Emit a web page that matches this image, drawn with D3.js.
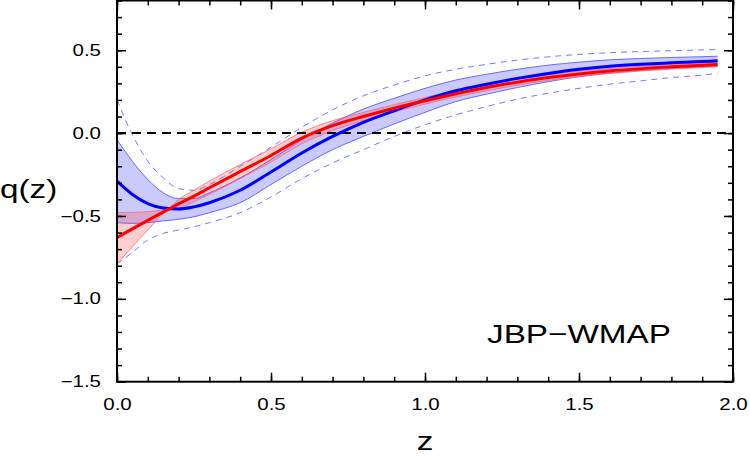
<!DOCTYPE html>
<html>
<head>
<meta charset="utf-8">
<script src="https://cdn.jsdelivr.net/npm/d3@7"></script>
<style>
  body { margin: 0; background: #fff; }
  text { font-family: "Liberation Sans", Arial, sans-serif; fill: #000; }
</style>
</head>
<body>
<div id="chart"></div>
<script>
// blue (JBP-WMAP) reconstruction: mean, 1 sigma band, 2 sigma dashed
let zBlue = [0, 0.05, 0.1, 0.15, 0.2, 0.25, 0.3, 0.4, 0.5, 0.6, 0.7, 0.8, 0.9, 1.0, 1.1, 1.2, 1.3, 1.4, 1.5, 1.6, 1.7, 1.8, 1.9, 1.95];
let blueMean = [-0.29, -0.37, -0.425, -0.452, -0.458, -0.445, -0.42, -0.345, -0.235, -0.12, -0.02, 0.065, 0.135, 0.2, 0.255, 0.295, 0.33, 0.36, 0.385, 0.403, 0.415, 0.424, 0.432, 0.436];
let blueHi1 = [-0.04, -0.17, -0.28, -0.36, -0.395, -0.395, -0.36, -0.27, -0.16, -0.04, 0.06, 0.145, 0.21, 0.27, 0.32, 0.355, 0.385, 0.41, 0.428, 0.442, 0.45, 0.456, 0.461, 0.464];
let blueLo1 = [-0.54, -0.545, -0.54, -0.53, -0.52, -0.505, -0.48, -0.42, -0.31, -0.2, -0.10, -0.02, 0.055, 0.125, 0.19, 0.235, 0.275, 0.31, 0.34, 0.362, 0.378, 0.39, 0.4, 0.405];
let blueHi2 = [0.2, -0.01, -0.17, -0.27, -0.335, -0.345, -0.31, -0.2, -0.085, 0.035, 0.14, 0.225, 0.29, 0.345, 0.385, 0.415, 0.44, 0.46, 0.475, 0.485, 0.492, 0.497, 0.502, 0.504];
let blueLo2 = [-0.79, -0.72, -0.645, -0.605, -0.585, -0.565, -0.54, -0.48, -0.385, -0.275, -0.18, -0.10, -0.02, 0.05, 0.11, 0.16, 0.205, 0.24, 0.27, 0.295, 0.315, 0.335, 0.35, 0.36];

// red reconstruction: mean and band
let zRed = [0, 0.05, 0.1, 0.165, 0.2, 0.25, 0.3, 0.4, 0.5, 0.6, 0.7, 0.8, 0.9, 1.0, 1.2, 1.4, 1.6, 1.8, 1.95];
let redMean = [-0.63, -0.578, -0.527, -0.462, -0.427, -0.38, -0.33, -0.232, -0.135, -0.03, 0.045, 0.1, 0.15, 0.195, 0.275, 0.335, 0.375, 0.4, 0.414];
let redHi = [-0.48, -0.478, -0.474, -0.455, -0.40, -0.345, -0.29, -0.19, -0.095, 0.005, 0.075, 0.125, 0.172, 0.215, 0.295, 0.352, 0.39, 0.414, 0.428];
let redLo = [-0.79, -0.685, -0.585, -0.468, -0.455, -0.415, -0.37, -0.275, -0.175, -0.065, 0.015, 0.075, 0.128, 0.175, 0.255, 0.318, 0.36, 0.386, 0.40];

let xTickLabels = [0, 0.5, 1.0, 1.5, 2.0];
let yTickLabels = [-1.5, -1.0, -0.5, 0.0, 0.5];

let width = 750, height = 461;
let plot = {left: 117, right: 733, top: 0.5, bottom: 381.7};

let svg = d3.select("#chart")
  .append("svg")
    .attr("width", width)
    .attr("height", height);

let x = d3.scaleLinear().domain([0, 2]).range([plot.left, plot.right]);
let y = d3.scaleLinear().domain([-1.5, 0.8]).range([plot.bottom, plot.top]);

let blue = zBlue.map(function(z, i) {
  return {z: z, m: blueMean[i], h1: blueHi1[i], l1: blueLo1[i], h2: blueHi2[i], l2: blueLo2[i]};
});
let red = zRed.map(function(z, i) {
  return {z: z, m: redMean[i], h: redHi[i], l: redLo[i]};
});

let curve = d3.curveMonotoneX;
let lineOf = function(key) {
  return d3.line().curve(curve).x(function(d) { return x(d.z); }).y(function(d) { return y(d[key]); });
};

// blue 1 sigma band
svg.append("path")
  .datum(blue)
  .attr("d", d3.area().curve(curve)
    .x(function(d) { return x(d.z); })
    .y0(function(d) { return y(d.l1); })
    .y1(function(d) { return y(d.h1); }))
  .attr("fill", "rgba(60,60,255,0.27)");

["h1", "l1"].forEach(function(k) {
  svg.append("path").datum(blue).attr("d", lineOf(k))
    .attr("fill", "none").attr("stroke", "#5a5aff").attr("stroke-width", 0.9);
});

// blue 2 sigma dashed
["h2", "l2"].forEach(function(k) {
  svg.append("path").datum(blue).attr("d", lineOf(k))
    .attr("fill", "none").attr("stroke", "#7878ff").attr("stroke-width", 1)
    .attr("stroke-dasharray", "6,5");
});

// red band
svg.append("path")
  .datum(red)
  .attr("d", d3.area().curve(curve)
    .x(function(d) { return x(d.z); })
    .y0(function(d) { return y(d.l); })
    .y1(function(d) { return y(d.h); }))
  .attr("fill", "rgba(255,60,60,0.25)");

["h", "l"].forEach(function(k) {
  svg.append("path").datum(red).attr("d", lineOf(k))
    .attr("fill", "none").attr("stroke", "#ff6a6a").attr("stroke-width", 0.8);
});

// zero line
svg.append("line")
  .attr("x1", x(0)).attr("x2", x(2))
  .attr("y1", y(0)).attr("y2", y(0))
  .attr("stroke", "#000").attr("stroke-width", 2)
  .attr("stroke-dasharray", "9,6");

// mean curves
svg.append("path").datum(blue).attr("d", lineOf("m"))
  .attr("fill", "none").attr("stroke", "#0000ff").attr("stroke-width", 3);
svg.append("path").datum(red).attr("d", lineOf("m"))
  .attr("fill", "none").attr("stroke", "#ff0000").attr("stroke-width", 3);

// frame with inward ticks on all sides
let fmt = d3.format(".1f");
let xMinor = d3.range(0, 2.0001, 0.1);
let yMinor = d3.range(-1.5, 0.8001, 0.1);

svg.append("g")
  .attr("transform", "translate(0," + plot.bottom + ")")
  .call(d3.axisBottom(x).tickValues(xMinor).tickSize(-5).tickFormat(""))
  .call(function(g) { g.select(".domain").remove(); });
svg.append("g")
  .attr("transform", "translate(0," + plot.bottom + ")")
  .call(d3.axisBottom(x).tickValues(xTickLabels).tickSize(-9).tickPadding(17)
    .tickFormat(function(d) { return fmt(d); }))
  .call(function(g) { g.select(".domain").remove(); });
svg.append("g")
  .attr("transform", "translate(0," + plot.top + ")")
  .call(d3.axisTop(x).tickValues(xMinor).tickSize(-5).tickFormat(""))
  .call(function(g) { g.select(".domain").remove(); });
svg.append("g")
  .attr("transform", "translate(0," + plot.top + ")")
  .call(d3.axisTop(x).tickValues(xTickLabels).tickSize(-9).tickFormat(""))
  .call(function(g) { g.select(".domain").remove(); });

svg.append("g")
  .attr("transform", "translate(" + plot.left + ",0)")
  .call(d3.axisLeft(y).tickValues(yMinor).tickSize(-5).tickFormat(""))
  .call(function(g) { g.select(".domain").remove(); });
svg.append("g")
  .attr("transform", "translate(" + plot.left + ",0)")
  .call(d3.axisLeft(y).tickValues(yTickLabels).tickSize(-9).tickPadding(16)
    .tickFormat(function(d) { return fmt(d).replace("-", "\u2212"); }))
  .call(function(g) { g.select(".domain").remove(); });
svg.append("g")
  .attr("transform", "translate(" + plot.right + ",0)")
  .call(d3.axisRight(y).tickValues(yMinor).tickSize(-5).tickFormat(""))
  .call(function(g) { g.select(".domain").remove(); });
svg.append("g")
  .attr("transform", "translate(" + plot.right + ",0)")
  .call(d3.axisRight(y).tickValues(yTickLabels).tickSize(-9).tickFormat(""))
  .call(function(g) { g.select(".domain").remove(); });

svg.selectAll(".tick line").attr("stroke", "#000").attr("stroke-width", 1.5);

// stretch tick labels horizontally like the reference
svg.selectAll(".tick text")
  .attr("font-size", 16)
  .attr("font-family", "Liberation Sans, Arial, sans-serif")
  .each(function() {
    let t = d3.select(this);
    let tx = +t.attr("x") || 0, ty = +t.attr("y") || 0;
    t.attr("transform", "translate(" + tx + "," + ty + ") scale(1.28,1)").attr("x", 0).attr("y", 0);
  });

svg.append("rect")
  .attr("x", plot.left).attr("y", plot.top)
  .attr("width", plot.right - plot.left).attr("height", plot.bottom - plot.top)
  .attr("fill", "none").attr("stroke", "#000").attr("stroke-width", 2);

// labels
svg.append("text")
  .attr("transform", "translate(425,450) scale(1.28,1)")
  .attr("text-anchor", "middle")
  .attr("font-size", 26)
  .text("z");

svg.append("text")
  .attr("transform", "translate(0,198) scale(1.28,1)")
  .attr("font-size", 26)
  .text("q(z)");

svg.append("text")
  .attr("transform", "translate(487,343) scale(1.28,1)")
  .attr("font-size", 26)
  .text("JBP\u2212WMAP");
</script>
</body>
</html>
